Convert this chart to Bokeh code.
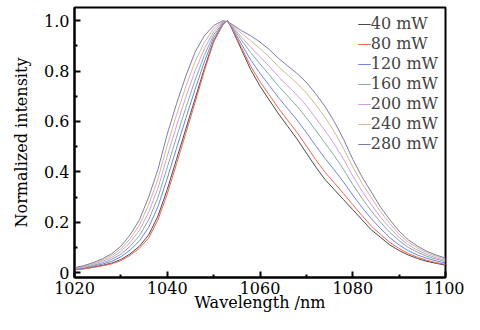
from bokeh.plotting import figure
from bokeh.embed import file_html
from bokeh.resources import INLINE
from bokeh.models import Range1d, FixedTicker, Legend, LegendItem

wavelength = [1020, 1022, 1024, 1026, 1028, 1030, 1032, 1034, 1036, 1038, 1040, 1042,
              1044, 1046, 1048, 1050, 1052, 1053, 1054, 1056, 1058, 1060, 1062, 1064,
              1066, 1068, 1070, 1072, 1074, 1076, 1078, 1080, 1082, 1084, 1086, 1088,
              1090, 1092, 1094, 1096, 1098, 1100]

p40 = [0.012, 0.016, 0.022, 0.029, 0.038, 0.052, 0.075, 0.105, 0.15, 0.225, 0.33, 0.45,
       0.57, 0.69, 0.81, 0.92, 0.985, 1.0, 0.965, 0.885, 0.805, 0.74, 0.685, 0.63,
       0.58, 0.53, 0.475, 0.42, 0.37, 0.33, 0.29, 0.25, 0.21, 0.17, 0.14, 0.11,
       0.088, 0.07, 0.056, 0.045, 0.037, 0.03]
p80 = [0.011, 0.015, 0.021, 0.027, 0.035, 0.048, 0.069, 0.097, 0.138, 0.21, 0.312, 0.432,
       0.553, 0.675, 0.80, 0.915, 0.984, 1.0, 0.967, 0.893, 0.819, 0.758, 0.705, 0.652,
       0.604, 0.556, 0.503, 0.449, 0.399, 0.357, 0.314, 0.27, 0.227, 0.185, 0.152, 0.12,
       0.096, 0.076, 0.061, 0.049, 0.04, 0.033]
p120 = [0.014, 0.018, 0.026, 0.034, 0.045, 0.063, 0.09, 0.126, 0.18, 0.262, 0.374, 0.494,
        0.612, 0.727, 0.836, 0.932, 0.988, 0.999, 0.971, 0.907, 0.844, 0.791, 0.743, 0.694,
        0.65, 0.605, 0.556, 0.504, 0.454, 0.408, 0.36, 0.308, 0.259, 0.214, 0.175, 0.139,
        0.11, 0.087, 0.07, 0.057, 0.047, 0.038]
p160 = [0.015, 0.021, 0.029, 0.039, 0.053, 0.073, 0.105, 0.147, 0.21, 0.299, 0.418, 0.538,
        0.654, 0.764, 0.862, 0.944, 0.991, 0.998, 0.975, 0.923, 0.873, 0.828, 0.785, 0.74,
        0.70, 0.66, 0.615, 0.565, 0.515, 0.465, 0.41, 0.35, 0.295, 0.245, 0.20, 0.16,
        0.127, 0.10, 0.081, 0.065, 0.054, 0.044]
p200 = [0.017, 0.023, 0.033, 0.045, 0.06, 0.084, 0.12, 0.168, 0.24, 0.336, 0.462, 0.582,
        0.696, 0.801, 0.888, 0.956, 0.994, 0.997, 0.978, 0.935, 0.895, 0.857, 0.819, 0.777,
        0.741, 0.704, 0.663, 0.614, 0.564, 0.511, 0.451, 0.384, 0.324, 0.27, 0.22, 0.177,
        0.14, 0.11, 0.089, 0.072, 0.059, 0.049]
p240 = [0.018, 0.026, 0.036, 0.05, 0.068, 0.094, 0.135, 0.189, 0.27, 0.373, 0.506, 0.626,
        0.738, 0.838, 0.914, 0.968, 0.997, 0.996, 0.982, 0.949, 0.92, 0.889, 0.855, 0.817,
        0.784, 0.751, 0.713, 0.667, 0.617, 0.56, 0.494, 0.42, 0.355, 0.298, 0.242, 0.195,
        0.153, 0.121, 0.098, 0.079, 0.065, 0.054]
p280 = [0.02, 0.028, 0.04, 0.055, 0.075, 0.105, 0.15, 0.21, 0.30, 0.41, 0.55, 0.67,
        0.78, 0.875, 0.94, 0.98, 1.0, 0.995, 0.985, 0.96, 0.94, 0.915, 0.885, 0.85,
        0.82, 0.79, 0.755, 0.71, 0.66, 0.60, 0.53, 0.45, 0.38, 0.32, 0.26, 0.21,
        0.165, 0.13, 0.105, 0.085, 0.07, 0.058]

labels = ["40 mW", "80 mW", "120 mW", "160 mW", "200 mW", "240 mW", "280 mW"]
series = [p40, p80, p120, p160, p200, p240, p280]
colors = ["#4a4a4a", "#f06450", "#7482dc", "#7eaea2", "#d89cdc", "#cfba8c", "#7e7caa"]

x_ticks = [1020, 1040, 1060, 1080, 1100]
x_minor = [1030, 1050, 1070, 1090]
y_ticks = [0, 0.2, 0.4, 0.6, 0.8, 1.0]
y_tick_labels = ["0", "0.2", "0.4", "0.6", "0.8", "1.0"]
y_minor = [0.1, 0.3, 0.5, 0.7, 0.9]

FONT = "DejaVu Serif"

p = figure(width=464, height=314, output_backend="svg", toolbar_location=None,
           x_range=Range1d(1020, 1100), y_range=Range1d(-0.019, 1.052),
           min_border_left=74, min_border_right=19, min_border_top=7, min_border_bottom=30)
p.background_fill_color = "white"
p.border_fill_color = "white"
p.grid.visible = False
p.outline_line_color = "black"
p.outline_line_width = 2

items = []
for lab, ys, c in zip(labels, series, colors):
    r = p.line(wavelength, ys, line_color=c, line_width=1)
    items.append(LegendItem(label=lab, renderers=[r]))

leg = Legend(items=items, location="top_right")
leg.border_line_alpha = 0
leg.background_fill_alpha = 0
leg.label_text_font = FONT
leg.label_text_font_size = "16px"
leg.label_standoff = 0
leg.glyph_width = 13
leg.glyph_height = 14
leg.label_height = 14
leg.spacing = 1
leg.padding = 2
leg.margin = 5
p.add_layout(leg)

for ax in (p.xaxis[0], p.yaxis[0]):
    ax.axis_line_width = 2
    ax.axis_line_color = "black"
    ax.major_tick_in = 6
    ax.major_tick_out = 0
    ax.minor_tick_in = 3
    ax.minor_tick_out = 0
    ax.major_tick_line_width = 2
    ax.minor_tick_line_width = 2
    ax.major_label_text_font = FONT
    ax.major_label_text_font_size = "16px"
    ax.major_label_text_color = "black"
    ax.axis_label_text_font = FONT
    ax.axis_label_text_font_size = "16px"
    ax.axis_label_text_font_style = "normal"
    ax.axis_label_text_color = "black"

p.xaxis.ticker = FixedTicker(ticks=x_ticks, minor_ticks=x_minor)
p.yaxis.ticker = FixedTicker(ticks=y_ticks, minor_ticks=y_minor)
p.yaxis.major_label_overrides = dict(zip(y_ticks, y_tick_labels))
p.xaxis.axis_label = "Wavelength /nm"
p.yaxis.axis_label = "Normalized intensity"
p.xaxis.major_label_standoff = 4
p.xaxis.axis_label_standoff = -4
p.yaxis.major_label_standoff = 5
p.yaxis.axis_label_standoff = 10

open("out.html", "w").write(file_html(p, INLINE))
